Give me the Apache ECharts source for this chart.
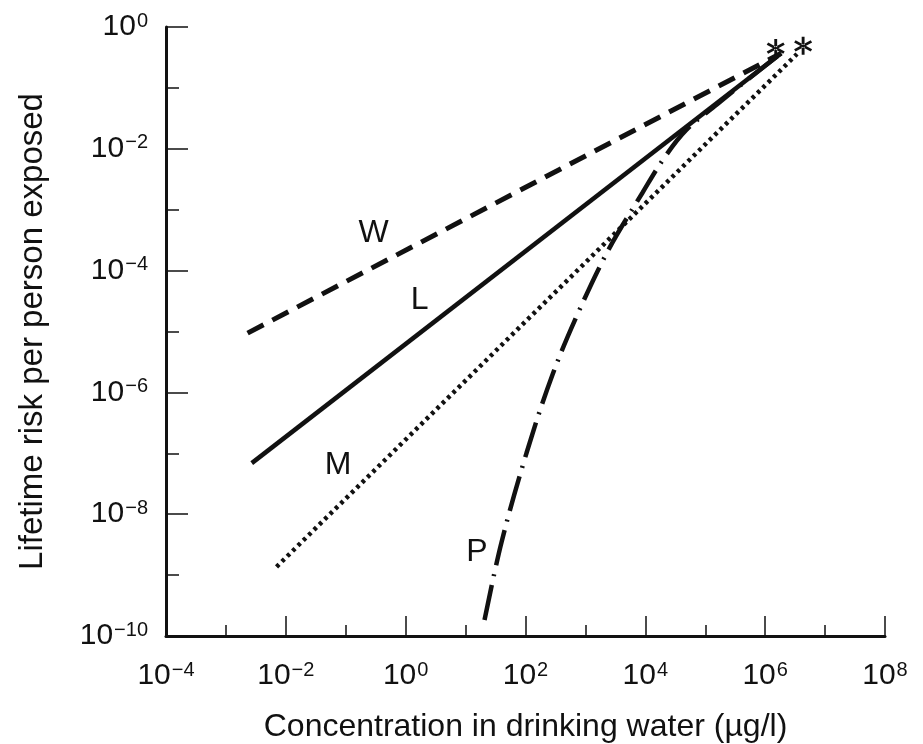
<!DOCTYPE html>
<html>
<head>
<meta charset="utf-8">
<title>Lifetime risk vs concentration</title>
<script src="https://cdn.jsdelivr.net/npm/echarts@6/dist/echarts.min.js"></script>
<style>
  html, body { margin: 0; padding: 0; background: #fff; }
  #chart { width: 923px; height: 744px; }
</style>
</head>
<body>
<div id="chart"></div>
<script>
// values: concentration (ug/l) and lifetime risk
const wConc = [2.3e-3, 1.85e6];
const wRisk = [9.4e-6, 0.37];
const lConc = [2.7e-3, 1.85e6];
const lRisk = [6.9e-8, 0.37];
const mConc = [7.0e-3, 3.4e6];
const mRisk = [1.37e-9, 0.36];
const pConc = [20.7, 39.8, 104, 282, 794, 2510, 8910, 2.0e4, 4.82e4, 1.58e5, 5.0e5, 1.85e6];
const pRisk = [1.83e-10, 3.47e-9, 1.01e-7, 1.95e-6, 2.25e-5, 2.34e-4, 1.88e-3, 6.76e-3, 0.0204, 0.0537, 0.135, 0.372];

// experimental points (asterisks)
const starConc = [1.5e6, 4.3e6];
const starRisk = [0.45, 0.49];

// curve letters and where they sit
const curveNames = ['W', 'L', 'M', 'P'];
const nameConc = [0.293, 1.71, 0.0745, 15.4];
const nameRisk = [4.14e-4, 3.29e-5, 6.5e-8, 2.42e-9];

// axis ranges in decades
const xDecades = [-4, 8];
const yDecades = [-10, 0];

const font = '"Liberation Sans", Arial, Helvetica, sans-serif';
const ink = '#111';

// both axes are log10 – plot exponents on value axes
const toPts = (xs, ys) => xs.map((x, i) => [Math.log10(x), Math.log10(ys[i])]);

const powLabel = v => {
  const e = Math.round(v);
  const sup = e < 0 ? '\u2212' + (-e) : String(e);
  return '{b|10}{s|' + sup + '}';
};

const richPow = {
  b: { fontSize: 30, lineHeight: 32, fontFamily: font, color: ink },
  s: { fontSize: 20, lineHeight: 20, verticalAlign: 'top', fontFamily: font, color: ink, padding: [0, 0, 0, 1] }
};

const asterisk = 'path://M-0.15 -1L0.15 -1L0.15 1L-0.15 1Z' +
  'M0.791 0.63L0.941 0.37L-0.791 -0.63L-0.941 -0.37Z' +
  'M0.941 -0.37L0.791 -0.63L-0.941 0.37L-0.791 0.63Z';

const chart = echarts.init(document.getElementById('chart'));

chart.setOption({
  animation: false,
  backgroundColor: '#fff',
  grid: { left: 166, right: 38, top: 27, bottom: 108, containLabel: false, outerBoundsMode: 'none' },
  xAxis: [
    {
      type: 'value',
      min: xDecades[0],
      max: xDecades[1],
      interval: 2,
      position: 'bottom',
      name: 'Concentration in drinking water (\u00b5g/l)',
      nameLocation: 'middle',
      nameGap: 75,
      nameTextStyle: { fontSize: 32, fontFamily: font, color: ink },
      axisLine: { onZero: false, lineStyle: { color: ink, width: 3 } },
      axisTick: { inside: true, length: 20, lineStyle: { color: ink, width: 1.5 } },
      axisLabel: { margin: 24, formatter: powLabel, rich: richPow },
      splitLine: { show: false }
    },
    {
      type: 'value',
      min: xDecades[0],
      max: xDecades[1],
      interval: 1,
      position: 'bottom',
      axisLine: { show: false, onZero: false },
      axisTick: { inside: true, length: 11, lineStyle: { color: ink, width: 1.5 } },
      axisLabel: { show: false },
      splitLine: { show: false }
    }
  ],
  yAxis: [
    {
      type: 'value',
      min: yDecades[0],
      max: yDecades[1],
      interval: 2,
      position: 'left',
      name: 'Lifetime risk per person exposed',
      nameLocation: 'middle',
      nameGap: 117,
      nameTextStyle: { fontSize: 33, fontFamily: font, color: ink },
      axisLine: { onZero: false, lineStyle: { color: ink, width: 3 } },
      axisTick: { inside: true, length: 22, lineStyle: { color: ink, width: 1.5 } },
      axisLabel: { margin: 18, formatter: powLabel, rich: richPow },
      splitLine: { show: false }
    },
    {
      type: 'value',
      min: yDecades[0],
      max: yDecades[1],
      interval: 1,
      position: 'left',
      axisLine: { show: false, onZero: false },
      axisTick: { inside: true, length: 13, lineStyle: { color: ink, width: 1.5 } },
      axisLabel: { show: false },
      splitLine: { show: false }
    }
  ],
  series: [
    {
      name: 'W',
      type: 'line',
      data: toPts(wConc, wRisk),
      symbol: 'none',
      lineStyle: { color: ink, width: 5, type: [18, 10] }
    },
    {
      name: 'L',
      type: 'line',
      data: toPts(lConc, lRisk),
      symbol: 'none',
      lineStyle: { color: ink, width: 4.5 }
    },
    {
      name: 'M',
      type: 'line',
      data: toPts(mConc, mRisk),
      symbol: 'none',
      lineStyle: { color: ink, width: 4.5, type: [3.5, 4] }
    },
    {
      name: 'P',
      type: 'line',
      data: toPts(pConc, pRisk),
      symbol: 'none',
      smooth: 0.35,
      lineStyle: { color: ink, width: 4.5, type: [36, 9, 2, 9] }
    },
    {
      name: 'data',
      type: 'scatter',
      data: toPts(starConc, starRisk),
      symbol: asterisk,
      symbolSize: 18,
      itemStyle: { color: ink, opacity: 1 }
    },
    {
      name: 'letters',
      type: 'scatter',
      data: curveNames.map((n, i) => ({
        name: n,
        value: [Math.log10(nameConc[i]), Math.log10(nameRisk[i])]
      })),
      symbolSize: 0,
      itemStyle: { opacity: 1 },
      label: {
        show: true,
        position: 'inside',
        formatter: '{b}',
        fontSize: 32,
        fontFamily: font,
        color: ink
      }
    }
  ]
});
</script>
</body>
</html>
